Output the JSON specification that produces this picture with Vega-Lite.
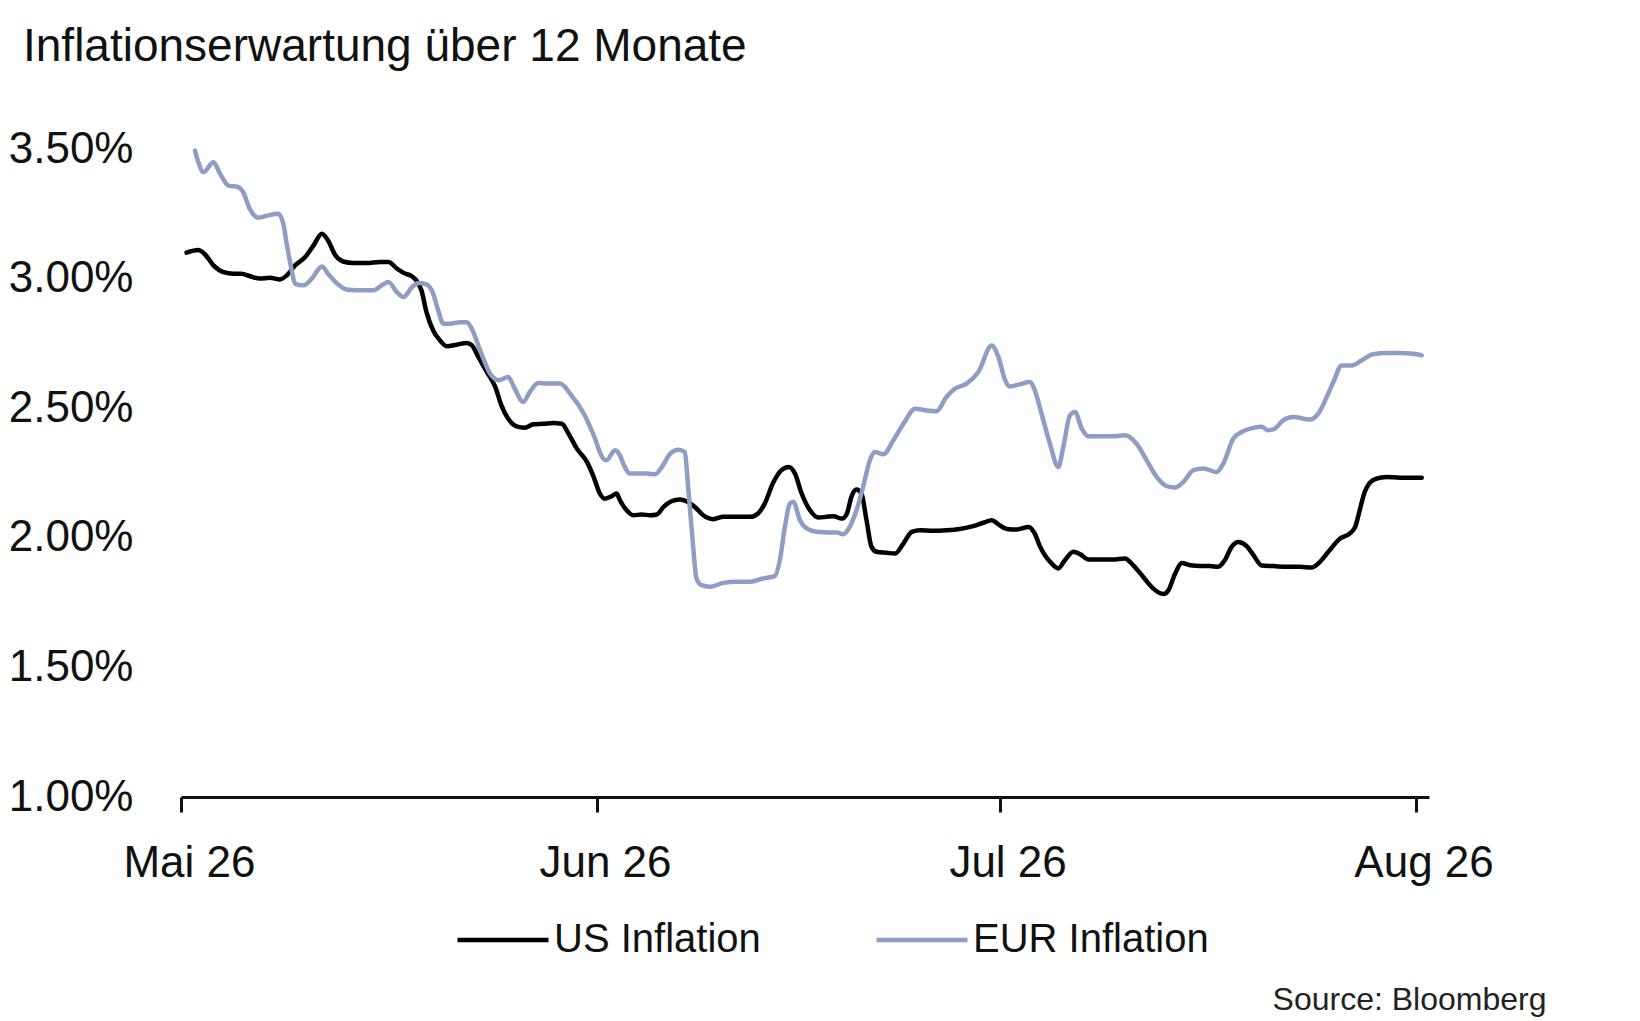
{
  "$schema": "https://vega.github.io/schema/vega-lite/v6.json",
  "autosize": {"type": "none"},
  "padding": {"left": 181, "top": 149, "right": 211, "bottom": 224},
  "width": 1248,
  "height": 648,
  "background": "white",
  "title": {
    "text": "Inflationserwartung über 12 Monate",
    "anchor": "start",
    "frame": "group",
    "dx": -158,
    "offset": 20,
    "baseline": "alphabetic",
    "font": "Liberation Sans",
    "fontSize": 46,
    "fontWeight": "normal",
    "color": "#111111"
  },
  "config": {
    "view": {"stroke": null},
    "font": "Liberation Sans"
  },
  "data": {
    "values": [
      {"date": "2026-05-01T10:00", "series": "US Inflation", "value": 3.10},
      {"date": "2026-05-02T07:00", "series": "US Inflation", "value": 3.11},
      {"date": "2026-05-02T19:00", "series": "US Inflation", "value": 3.093},
      {"date": "2026-05-03T10:00", "series": "US Inflation", "value": 3.051},
      {"date": "2026-05-04T04:00", "series": "US Inflation", "value": 3.025},
      {"date": "2026-05-04T22:00", "series": "US Inflation", "value": 3.019},
      {"date": "2026-05-05T12:00", "series": "US Inflation", "value": 3.019},
      {"date": "2026-05-06T03:00", "series": "US Inflation", "value": 3.010},
      {"date": "2026-05-06T21:00", "series": "US Inflation", "value": 3.000},
      {"date": "2026-05-07T15:00", "series": "US Inflation", "value": 3.003},
      {"date": "2026-05-08T09:00", "series": "US Inflation", "value": 2.997},
      {"date": "2026-05-08T21:00", "series": "US Inflation", "value": 3.012},
      {"date": "2026-05-09T12:00", "series": "US Inflation", "value": 3.051},
      {"date": "2026-05-10T06:00", "series": "US Inflation", "value": 3.083},
      {"date": "2026-05-10T21:00", "series": "US Inflation", "value": 3.128},
      {"date": "2026-05-11T12:00", "series": "US Inflation", "value": 3.173},
      {"date": "2026-05-11T23:00", "series": "US Inflation", "value": 3.147},
      {"date": "2026-05-12T12:00", "series": "US Inflation", "value": 3.090},
      {"date": "2026-05-13T02:00", "series": "US Inflation", "value": 3.066},
      {"date": "2026-05-13T20:00", "series": "US Inflation", "value": 3.060},
      {"date": "2026-05-14T20:00", "series": "US Inflation", "value": 3.060},
      {"date": "2026-05-15T20:00", "series": "US Inflation", "value": 3.064},
      {"date": "2026-05-16T11:00", "series": "US Inflation", "value": 3.064},
      {"date": "2026-05-17T02:00", "series": "US Inflation", "value": 3.039},
      {"date": "2026-05-17T14:00", "series": "US Inflation", "value": 3.022},
      {"date": "2026-05-18T05:00", "series": "US Inflation", "value": 3.009},
      {"date": "2026-05-18T13:00", "series": "US Inflation", "value": 2.993},
      {"date": "2026-05-18T22:00", "series": "US Inflation", "value": 2.955},
      {"date": "2026-05-19T07:00", "series": "US Inflation", "value": 2.871},
      {"date": "2026-05-19T19:00", "series": "US Inflation", "value": 2.800},
      {"date": "2026-05-20T07:00", "series": "US Inflation", "value": 2.762},
      {"date": "2026-05-20T19:00", "series": "US Inflation", "value": 2.739},
      {"date": "2026-05-21T13:00", "series": "US Inflation", "value": 2.745},
      {"date": "2026-05-22T07:00", "series": "US Inflation", "value": 2.752},
      {"date": "2026-05-22T16:00", "series": "US Inflation", "value": 2.743},
      {"date": "2026-05-23T04:00", "series": "US Inflation", "value": 2.697},
      {"date": "2026-05-23T19:00", "series": "US Inflation", "value": 2.640},
      {"date": "2026-05-24T10:00", "series": "US Inflation", "value": 2.582},
      {"date": "2026-05-24T21:00", "series": "US Inflation", "value": 2.511},
      {"date": "2026-05-25T09:00", "series": "US Inflation", "value": 2.460},
      {"date": "2026-05-26T00:00", "series": "US Inflation", "value": 2.430},
      {"date": "2026-05-26T15:00", "series": "US Inflation", "value": 2.425},
      {"date": "2026-05-27T06:00", "series": "US Inflation", "value": 2.438},
      {"date": "2026-05-28T00:00", "series": "US Inflation", "value": 2.440},
      {"date": "2026-05-28T18:00", "series": "US Inflation", "value": 2.443},
      {"date": "2026-05-29T09:00", "series": "US Inflation", "value": 2.440},
      {"date": "2026-05-29T21:00", "series": "US Inflation", "value": 2.402},
      {"date": "2026-05-30T12:00", "series": "US Inflation", "value": 2.344},
      {"date": "2026-05-31T06:00", "series": "US Inflation", "value": 2.293},
      {"date": "2026-05-31T18:00", "series": "US Inflation", "value": 2.235},
      {"date": "2026-06-01T05:00", "series": "US Inflation", "value": 2.171},
      {"date": "2026-06-01T14:00", "series": "US Inflation", "value": 2.151},
      {"date": "2026-06-02T02:00", "series": "US Inflation", "value": 2.160},
      {"date": "2026-06-02T11:00", "series": "US Inflation", "value": 2.171},
      {"date": "2026-06-02T17:00", "series": "US Inflation", "value": 2.145},
      {"date": "2026-06-03T05:00", "series": "US Inflation", "value": 2.106},
      {"date": "2026-06-03T17:00", "series": "US Inflation", "value": 2.087},
      {"date": "2026-06-04T08:00", "series": "US Inflation", "value": 2.090},
      {"date": "2026-06-04T23:00", "series": "US Inflation", "value": 2.087},
      {"date": "2026-06-05T11:00", "series": "US Inflation", "value": 2.090},
      {"date": "2026-06-05T23:00", "series": "US Inflation", "value": 2.119},
      {"date": "2026-06-06T13:00", "series": "US Inflation", "value": 2.141},
      {"date": "2026-06-07T04:00", "series": "US Inflation", "value": 2.148},
      {"date": "2026-06-07T16:00", "series": "US Inflation", "value": 2.141},
      {"date": "2026-06-08T07:00", "series": "US Inflation", "value": 2.119},
      {"date": "2026-06-08T22:00", "series": "US Inflation", "value": 2.087},
      {"date": "2026-06-09T16:00", "series": "US Inflation", "value": 2.072},
      {"date": "2026-06-10T10:00", "series": "US Inflation", "value": 2.081},
      {"date": "2026-06-11T10:00", "series": "US Inflation", "value": 2.081},
      {"date": "2026-06-12T10:00", "series": "US Inflation", "value": 2.081},
      {"date": "2026-06-13T00:00", "series": "US Inflation", "value": 2.094},
      {"date": "2026-06-13T12:00", "series": "US Inflation", "value": 2.132},
      {"date": "2026-06-14T03:00", "series": "US Inflation", "value": 2.212},
      {"date": "2026-06-14T18:00", "series": "US Inflation", "value": 2.261},
      {"date": "2026-06-15T07:00", "series": "US Inflation", "value": 2.273},
      {"date": "2026-06-15T18:00", "series": "US Inflation", "value": 2.248},
      {"date": "2026-06-16T06:00", "series": "US Inflation", "value": 2.171},
      {"date": "2026-06-16T21:00", "series": "US Inflation", "value": 2.106},
      {"date": "2026-06-17T12:00", "series": "US Inflation", "value": 2.078},
      {"date": "2026-06-18T03:00", "series": "US Inflation", "value": 2.081},
      {"date": "2026-06-18T15:00", "series": "US Inflation", "value": 2.083},
      {"date": "2026-06-19T06:00", "series": "US Inflation", "value": 2.074},
      {"date": "2026-06-19T15:00", "series": "US Inflation", "value": 2.094},
      {"date": "2026-06-19T23:00", "series": "US Inflation", "value": 2.158},
      {"date": "2026-06-20T08:00", "series": "US Inflation", "value": 2.186},
      {"date": "2026-06-20T17:00", "series": "US Inflation", "value": 2.171},
      {"date": "2026-06-21T02:00", "series": "US Inflation", "value": 2.068},
      {"date": "2026-06-21T11:00", "series": "US Inflation", "value": 1.965},
      {"date": "2026-06-21T20:00", "series": "US Inflation", "value": 1.946},
      {"date": "2026-06-22T14:00", "series": "US Inflation", "value": 1.942},
      {"date": "2026-06-23T05:00", "series": "US Inflation", "value": 1.939},
      {"date": "2026-06-23T20:00", "series": "US Inflation", "value": 1.978},
      {"date": "2026-06-24T11:00", "series": "US Inflation", "value": 2.023},
      {"date": "2026-06-25T02:00", "series": "US Inflation", "value": 2.029},
      {"date": "2026-06-26T01:00", "series": "US Inflation", "value": 2.027},
      {"date": "2026-06-27T01:00", "series": "US Inflation", "value": 2.029},
      {"date": "2026-06-28T01:00", "series": "US Inflation", "value": 2.034},
      {"date": "2026-06-29T01:00", "series": "US Inflation", "value": 2.045},
      {"date": "2026-06-29T19:00", "series": "US Inflation", "value": 2.058},
      {"date": "2026-06-30T10:00", "series": "US Inflation", "value": 2.068},
      {"date": "2026-06-30T22:00", "series": "US Inflation", "value": 2.052},
      {"date": "2026-07-01T13:00", "series": "US Inflation", "value": 2.034},
      {"date": "2026-07-02T07:00", "series": "US Inflation", "value": 2.032},
      {"date": "2026-07-03T04:00", "series": "US Inflation", "value": 2.042},
      {"date": "2026-07-03T15:00", "series": "US Inflation", "value": 2.016},
      {"date": "2026-07-04T00:00", "series": "US Inflation", "value": 1.968},
      {"date": "2026-07-04T21:00", "series": "US Inflation", "value": 1.901},
      {"date": "2026-07-05T09:00", "series": "US Inflation", "value": 1.882},
      {"date": "2026-07-05T21:00", "series": "US Inflation", "value": 1.914},
      {"date": "2026-07-06T12:00", "series": "US Inflation", "value": 1.946},
      {"date": "2026-07-07T00:00", "series": "US Inflation", "value": 1.937},
      {"date": "2026-07-07T15:00", "series": "US Inflation", "value": 1.916},
      {"date": "2026-07-08T12:00", "series": "US Inflation", "value": 1.916},
      {"date": "2026-07-09T11:00", "series": "US Inflation", "value": 1.916},
      {"date": "2026-07-10T08:00", "series": "US Inflation", "value": 1.920},
      {"date": "2026-07-10T23:00", "series": "US Inflation", "value": 1.894},
      {"date": "2026-07-11T17:00", "series": "US Inflation", "value": 1.849},
      {"date": "2026-07-12T11:00", "series": "US Inflation", "value": 1.804},
      {"date": "2026-07-13T05:00", "series": "US Inflation", "value": 1.783},
      {"date": "2026-07-13T14:00", "series": "US Inflation", "value": 1.798},
      {"date": "2026-07-14T02:00", "series": "US Inflation", "value": 1.862},
      {"date": "2026-07-14T14:00", "series": "US Inflation", "value": 1.903},
      {"date": "2026-07-15T05:00", "series": "US Inflation", "value": 1.894},
      {"date": "2026-07-15T23:00", "series": "US Inflation", "value": 1.891},
      {"date": "2026-07-16T16:00", "series": "US Inflation", "value": 1.891},
      {"date": "2026-07-17T07:00", "series": "US Inflation", "value": 1.888},
      {"date": "2026-07-17T19:00", "series": "US Inflation", "value": 1.914},
      {"date": "2026-07-18T07:00", "series": "US Inflation", "value": 1.965},
      {"date": "2026-07-18T19:00", "series": "US Inflation", "value": 1.984},
      {"date": "2026-07-19T10:00", "series": "US Inflation", "value": 1.968},
      {"date": "2026-07-19T22:00", "series": "US Inflation", "value": 1.933},
      {"date": "2026-07-20T13:00", "series": "US Inflation", "value": 1.893},
      {"date": "2026-07-21T10:00", "series": "US Inflation", "value": 1.891},
      {"date": "2026-07-22T09:00", "series": "US Inflation", "value": 1.888},
      {"date": "2026-07-23T09:00", "series": "US Inflation", "value": 1.888},
      {"date": "2026-07-24T06:00", "series": "US Inflation", "value": 1.885},
      {"date": "2026-07-24T18:00", "series": "US Inflation", "value": 1.901},
      {"date": "2026-07-25T12:00", "series": "US Inflation", "value": 1.946},
      {"date": "2026-07-26T09:00", "series": "US Inflation", "value": 1.997},
      {"date": "2026-07-27T02:00", "series": "US Inflation", "value": 2.016},
      {"date": "2026-07-27T12:00", "series": "US Inflation", "value": 2.042},
      {"date": "2026-07-27T20:00", "series": "US Inflation", "value": 2.106},
      {"date": "2026-07-28T05:00", "series": "US Inflation", "value": 2.177},
      {"date": "2026-07-28T14:00", "series": "US Inflation", "value": 2.212},
      {"date": "2026-07-29T02:00", "series": "US Inflation", "value": 2.228},
      {"date": "2026-07-29T20:00", "series": "US Inflation", "value": 2.235},
      {"date": "2026-07-30T20:00", "series": "US Inflation", "value": 2.232},
      {"date": "2026-07-31T20:00", "series": "US Inflation", "value": 2.232},
      {"date": "2026-08-01T11:00", "series": "US Inflation", "value": 2.232},
      {"date": "2026-05-02T01:00", "series": "EUR Inflation", "value": 3.494},
      {"date": "2026-05-02T07:00", "series": "EUR Inflation", "value": 3.449},
      {"date": "2026-05-02T16:00", "series": "EUR Inflation", "value": 3.411},
      {"date": "2026-05-03T10:00", "series": "EUR Inflation", "value": 3.449},
      {"date": "2026-05-03T22:00", "series": "EUR Inflation", "value": 3.404},
      {"date": "2026-05-04T13:00", "series": "EUR Inflation", "value": 3.359},
      {"date": "2026-05-05T06:00", "series": "EUR Inflation", "value": 3.353},
      {"date": "2026-05-05T15:00", "series": "EUR Inflation", "value": 3.334},
      {"date": "2026-05-06T03:00", "series": "EUR Inflation", "value": 3.269},
      {"date": "2026-05-06T18:00", "series": "EUR Inflation", "value": 3.235},
      {"date": "2026-05-07T12:00", "series": "EUR Inflation", "value": 3.244},
      {"date": "2026-05-08T06:00", "series": "EUR Inflation", "value": 3.250},
      {"date": "2026-05-08T15:00", "series": "EUR Inflation", "value": 3.211},
      {"date": "2026-05-08T21:00", "series": "EUR Inflation", "value": 3.134},
      {"date": "2026-05-09T06:00", "series": "EUR Inflation", "value": 3.032},
      {"date": "2026-05-09T12:00", "series": "EUR Inflation", "value": 2.980},
      {"date": "2026-05-10T03:00", "series": "EUR Inflation", "value": 2.974},
      {"date": "2026-05-10T18:00", "series": "EUR Inflation", "value": 3.000},
      {"date": "2026-05-11T12:00", "series": "EUR Inflation", "value": 3.047},
      {"date": "2026-05-11T23:00", "series": "EUR Inflation", "value": 3.019},
      {"date": "2026-05-12T12:00", "series": "EUR Inflation", "value": 2.987},
      {"date": "2026-05-13T08:00", "series": "EUR Inflation", "value": 2.958},
      {"date": "2026-05-14T02:00", "series": "EUR Inflation", "value": 2.955},
      {"date": "2026-05-15T08:00", "series": "EUR Inflation", "value": 2.955},
      {"date": "2026-05-15T23:00", "series": "EUR Inflation", "value": 2.974},
      {"date": "2026-05-16T11:00", "series": "EUR Inflation", "value": 2.987},
      {"date": "2026-05-17T02:00", "series": "EUR Inflation", "value": 2.948},
      {"date": "2026-05-17T14:00", "series": "EUR Inflation", "value": 2.929},
      {"date": "2026-05-18T05:00", "series": "EUR Inflation", "value": 2.967},
      {"date": "2026-05-18T17:00", "series": "EUR Inflation", "value": 2.983},
      {"date": "2026-05-19T07:00", "series": "EUR Inflation", "value": 2.978},
      {"date": "2026-05-19T19:00", "series": "EUR Inflation", "value": 2.942},
      {"date": "2026-05-20T04:00", "series": "EUR Inflation", "value": 2.877},
      {"date": "2026-05-20T13:00", "series": "EUR Inflation", "value": 2.826},
      {"date": "2026-05-21T01:00", "series": "EUR Inflation", "value": 2.826},
      {"date": "2026-05-21T19:00", "series": "EUR Inflation", "value": 2.832},
      {"date": "2026-05-22T07:00", "series": "EUR Inflation", "value": 2.832},
      {"date": "2026-05-22T16:00", "series": "EUR Inflation", "value": 2.807},
      {"date": "2026-05-23T07:00", "series": "EUR Inflation", "value": 2.723},
      {"date": "2026-05-24T01:00", "series": "EUR Inflation", "value": 2.633},
      {"date": "2026-05-24T16:00", "series": "EUR Inflation", "value": 2.608},
      {"date": "2026-05-25T09:00", "series": "EUR Inflation", "value": 2.620},
      {"date": "2026-05-25T21:00", "series": "EUR Inflation", "value": 2.575},
      {"date": "2026-05-26T12:00", "series": "EUR Inflation", "value": 2.524},
      {"date": "2026-05-27T00:00", "series": "EUR Inflation", "value": 2.563},
      {"date": "2026-05-27T15:00", "series": "EUR Inflation", "value": 2.597},
      {"date": "2026-05-28T06:00", "series": "EUR Inflation", "value": 2.595},
      {"date": "2026-05-29T06:00", "series": "EUR Inflation", "value": 2.595},
      {"date": "2026-05-30T00:00", "series": "EUR Inflation", "value": 2.556},
      {"date": "2026-05-31T02:00", "series": "EUR Inflation", "value": 2.473},
      {"date": "2026-05-31T18:00", "series": "EUR Inflation", "value": 2.396},
      {"date": "2026-06-01T11:00", "series": "EUR Inflation", "value": 2.306},
      {"date": "2026-06-01T17:00", "series": "EUR Inflation", "value": 2.299},
      {"date": "2026-06-02T08:00", "series": "EUR Inflation", "value": 2.338},
      {"date": "2026-06-02T17:00", "series": "EUR Inflation", "value": 2.318},
      {"date": "2026-06-02T23:00", "series": "EUR Inflation", "value": 2.286},
      {"date": "2026-06-03T11:00", "series": "EUR Inflation", "value": 2.248},
      {"date": "2026-06-04T02:00", "series": "EUR Inflation", "value": 2.248},
      {"date": "2026-06-04T17:00", "series": "EUR Inflation", "value": 2.248},
      {"date": "2026-06-05T08:00", "series": "EUR Inflation", "value": 2.245},
      {"date": "2026-06-05T20:00", "series": "EUR Inflation", "value": 2.273},
      {"date": "2026-06-06T11:00", "series": "EUR Inflation", "value": 2.325},
      {"date": "2026-06-07T01:00", "series": "EUR Inflation", "value": 2.340},
      {"date": "2026-06-07T13:00", "series": "EUR Inflation", "value": 2.331},
      {"date": "2026-06-07T19:00", "series": "EUR Inflation", "value": 2.196},
      {"date": "2026-06-08T03:00", "series": "EUR Inflation", "value": 1.991},
      {"date": "2026-06-08T10:00", "series": "EUR Inflation", "value": 1.843},
      {"date": "2026-06-08T19:00", "series": "EUR Inflation", "value": 1.817},
      {"date": "2026-06-09T10:00", "series": "EUR Inflation", "value": 1.811},
      {"date": "2026-06-10T10:00", "series": "EUR Inflation", "value": 1.826},
      {"date": "2026-06-11T10:00", "series": "EUR Inflation", "value": 1.830},
      {"date": "2026-06-12T10:00", "series": "EUR Inflation", "value": 1.830},
      {"date": "2026-06-13T09:00", "series": "EUR Inflation", "value": 1.843},
      {"date": "2026-06-14T06:00", "series": "EUR Inflation", "value": 1.852},
      {"date": "2026-06-14T15:00", "series": "EUR Inflation", "value": 1.914},
      {"date": "2026-06-15T00:00", "series": "EUR Inflation", "value": 2.042},
      {"date": "2026-06-15T09:00", "series": "EUR Inflation", "value": 2.132},
      {"date": "2026-06-15T15:00", "series": "EUR Inflation", "value": 2.139},
      {"date": "2026-06-16T03:00", "series": "EUR Inflation", "value": 2.068},
      {"date": "2026-06-16T15:00", "series": "EUR Inflation", "value": 2.036},
      {"date": "2026-06-17T09:00", "series": "EUR Inflation", "value": 2.023},
      {"date": "2026-06-18T09:00", "series": "EUR Inflation", "value": 2.020},
      {"date": "2026-06-18T21:00", "series": "EUR Inflation", "value": 2.020},
      {"date": "2026-06-19T08:00", "series": "EUR Inflation", "value": 2.014},
      {"date": "2026-06-19T20:00", "series": "EUR Inflation", "value": 2.042},
      {"date": "2026-06-20T08:00", "series": "EUR Inflation", "value": 2.106},
      {"date": "2026-06-20T20:00", "series": "EUR Inflation", "value": 2.196},
      {"date": "2026-06-21T08:00", "series": "EUR Inflation", "value": 2.299},
      {"date": "2026-06-21T17:00", "series": "EUR Inflation", "value": 2.331},
      {"date": "2026-06-22T08:00", "series": "EUR Inflation", "value": 2.322},
      {"date": "2026-06-23T02:00", "series": "EUR Inflation", "value": 2.376},
      {"date": "2026-06-23T20:00", "series": "EUR Inflation", "value": 2.440},
      {"date": "2026-06-24T17:00", "series": "EUR Inflation", "value": 2.498},
      {"date": "2026-06-25T11:00", "series": "EUR Inflation", "value": 2.492},
      {"date": "2026-06-26T07:00", "series": "EUR Inflation", "value": 2.488},
      {"date": "2026-06-27T01:00", "series": "EUR Inflation", "value": 2.543},
      {"date": "2026-06-27T16:00", "series": "EUR Inflation", "value": 2.575},
      {"date": "2026-06-28T13:00", "series": "EUR Inflation", "value": 2.595},
      {"date": "2026-06-29T10:00", "series": "EUR Inflation", "value": 2.640},
      {"date": "2026-06-30T10:00", "series": "EUR Inflation", "value": 2.742},
      {"date": "2026-06-30T22:00", "series": "EUR Inflation", "value": 2.697},
      {"date": "2026-07-01T10:00", "series": "EUR Inflation", "value": 2.608},
      {"date": "2026-07-01T18:00", "series": "EUR Inflation", "value": 2.584},
      {"date": "2026-07-02T12:00", "series": "EUR Inflation", "value": 2.592},
      {"date": "2026-07-03T06:00", "series": "EUR Inflation", "value": 2.601},
      {"date": "2026-07-03T15:00", "series": "EUR Inflation", "value": 2.569},
      {"date": "2026-07-04T03:00", "series": "EUR Inflation", "value": 2.479},
      {"date": "2026-07-04T18:00", "series": "EUR Inflation", "value": 2.363},
      {"date": "2026-07-05T09:00", "series": "EUR Inflation", "value": 2.273},
      {"date": "2026-07-05T18:00", "series": "EUR Inflation", "value": 2.351},
      {"date": "2026-07-06T06:00", "series": "EUR Inflation", "value": 2.473},
      {"date": "2026-07-06T15:00", "series": "EUR Inflation", "value": 2.485},
      {"date": "2026-07-07T03:00", "series": "EUR Inflation", "value": 2.421},
      {"date": "2026-07-07T15:00", "series": "EUR Inflation", "value": 2.392},
      {"date": "2026-07-08T12:00", "series": "EUR Inflation", "value": 2.392},
      {"date": "2026-07-09T11:00", "series": "EUR Inflation", "value": 2.392},
      {"date": "2026-07-10T08:00", "series": "EUR Inflation", "value": 2.396},
      {"date": "2026-07-11T05:00", "series": "EUR Inflation", "value": 2.363},
      {"date": "2026-07-11T23:00", "series": "EUR Inflation", "value": 2.299},
      {"date": "2026-07-12T17:00", "series": "EUR Inflation", "value": 2.235},
      {"date": "2026-07-13T11:00", "series": "EUR Inflation", "value": 2.199},
      {"date": "2026-07-14T02:00", "series": "EUR Inflation", "value": 2.194},
      {"date": "2026-07-14T17:00", "series": "EUR Inflation", "value": 2.216},
      {"date": "2026-07-15T11:00", "series": "EUR Inflation", "value": 2.261},
      {"date": "2026-07-16T05:00", "series": "EUR Inflation", "value": 2.267},
      {"date": "2026-07-17T04:00", "series": "EUR Inflation", "value": 2.254},
      {"date": "2026-07-17T16:00", "series": "EUR Inflation", "value": 2.286},
      {"date": "2026-07-18T10:00", "series": "EUR Inflation", "value": 2.383},
      {"date": "2026-07-19T01:00", "series": "EUR Inflation", "value": 2.408},
      {"date": "2026-07-19T22:00", "series": "EUR Inflation", "value": 2.424},
      {"date": "2026-07-20T13:00", "series": "EUR Inflation", "value": 2.428},
      {"date": "2026-07-21T00:00", "series": "EUR Inflation", "value": 2.415},
      {"date": "2026-07-21T12:00", "series": "EUR Inflation", "value": 2.421},
      {"date": "2026-07-22T03:00", "series": "EUR Inflation", "value": 2.453},
      {"date": "2026-07-22T21:00", "series": "EUR Inflation", "value": 2.466},
      {"date": "2026-07-24T03:00", "series": "EUR Inflation", "value": 2.456},
      {"date": "2026-07-24T18:00", "series": "EUR Inflation", "value": 2.479},
      {"date": "2026-07-25T09:00", "series": "EUR Inflation", "value": 2.543},
      {"date": "2026-07-25T21:00", "series": "EUR Inflation", "value": 2.601},
      {"date": "2026-07-26T12:00", "series": "EUR Inflation", "value": 2.665},
      {"date": "2026-07-27T06:00", "series": "EUR Inflation", "value": 2.665},
      {"date": "2026-07-28T00:00", "series": "EUR Inflation", "value": 2.685},
      {"date": "2026-07-28T20:00", "series": "EUR Inflation", "value": 2.708},
      {"date": "2026-07-29T20:00", "series": "EUR Inflation", "value": 2.713},
      {"date": "2026-07-30T20:00", "series": "EUR Inflation", "value": 2.713},
      {"date": "2026-07-31T20:00", "series": "EUR Inflation", "value": 2.710},
      {"date": "2026-08-01T11:00", "series": "EUR Inflation", "value": 2.704}
    ]
  },
  "mark": {"type": "line", "interpolate": "monotone", "strokeWidth": 4.5, "strokeCap": "round", "strokeJoin": "round"},
  "encoding": {
    "x": {
      "field": "date",
      "type": "temporal",
      "scale": {
        "domain": [
          {"year": 2026, "month": 5, "date": 1},
          {"year": 2026, "month": 8, "date": 2}
        ]
      },
      "axis": {
        "values": [
          {"year": 2026, "month": 5, "date": 1},
          {"year": 2026, "month": 6, "date": 1},
          {"year": 2026, "month": 7, "date": 1},
          {"year": 2026, "month": 8, "date": 1}
        ],
        "labelExpr": "['Jan','Feb','Mär','Apr','Mai','Jun','Jul','Aug','Sep','Okt','Nov','Dez'][month(datum.value)] + ' ' + timeFormat(datum.value, '%y')",
        "labelFont": "Liberation Sans",
        "labelFontSize": 44,
        "labelColor": "#111111",
        "labelPadding": 29,
        "labelOffset": 8,
        "labelFlush": false,
        "labelOverlap": false,
        "tickSize": 15,
        "tickWidth": 3,
        "tickColor": "#111111",
        "domainColor": "#111111",
        "domainWidth": 3,
        "grid": false,
        "title": "Source: Bloomberg",
        "titleFont": "Liberation Sans",
        "titleFontSize": 32,
        "titleFontWeight": "normal",
        "titleColor": "#222222",
        "titleAlign": "right",
        "titleAnchor": "end",
        "titleBaseline": "alphabetic",
        "titleX": 1365,
        "titleY": 212
      }
    },
    "y": {
      "field": "value",
      "type": "quantitative",
      "scale": {"domain": [1, 3.5], "zero": false, "nice": false},
      "axis": {
        "values": [1, 1.5, 2, 2.5, 3, 3.5],
        "labelExpr": "format(datum.value, '.2f') + '%'",
        "labelFont": "Liberation Sans",
        "labelFontSize": 44,
        "labelColor": "#111111",
        "labelPadding": 48,
        "ticks": false,
        "tickSize": 0,
        "domain": false,
        "grid": false,
        "title": null
      }
    },
    "color": {
      "field": "series",
      "type": "nominal",
      "scale": {
        "domain": ["US Inflation", "EUR Inflation"],
        "range": ["#000000", "#8E9DC3"]
      },
      "legend": {
        "title": null,
        "orient": "none",
        "direction": "horizontal",
        "legendX": 274,
        "legendY": 743,
        "padding": 0,
        "symbolType": "stroke",
        "symbolSize": 8281,
        "symbolStrokeWidth": 4.5,
        "labelFont": "Liberation Sans",
        "labelFontSize": 40,
        "labelColor": "#111111",
        "labelOffset": 3,
        "labelLimit": 500,
        "columnPadding": 106
      }
    }
  }
}
